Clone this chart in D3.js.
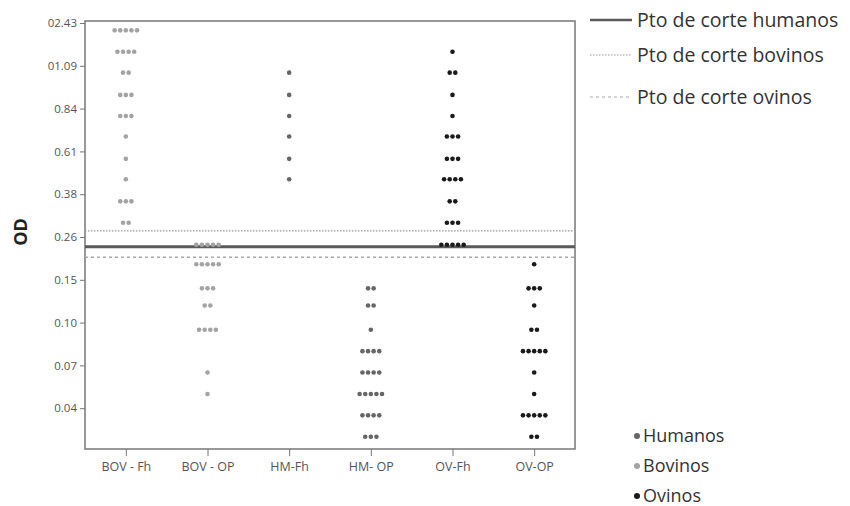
<!DOCTYPE html>
<meta charset="utf-8">
<style>
body { margin: 0; background: #fff; }
.axis text { font-family: "Open Sans", sans-serif; font-size: 11.5px; fill: #555; }
.axis.x text { font-size: 12.5px; }
.axis path, .axis line { stroke: #777; }
.legend text { font-family: "Open Sans", sans-serif; fill: #333; }
</style>
<body>
<script src="https://cdn.jsdelivr.net/npm/d3@7"></script>
<script>

// categories on the x axis
var groups = ["BOV - Fh", "BOV - OP", "HM-Fh", "HM- OP", "OV-Fh", "OV-OP"];
var groupSpecies = ["Bovinos", "Bovinos", "Humanos", "Humanos", "Ovinos", "Ovinos"];

// y ticks (OD) and the labels printed for them
var yTicks = [0.01, 0.04, 0.07, 0.10, 0.15, 0.26, 0.38, 0.61, 0.84, 1.09, 2.43];
var yTickLabels = ["", "0.04", "0.07", "0.10", "0.15", "0.26", "0.38", "0.61", "0.84", "01.09", "02.43"];

// dot plot bins: [OD, number of samples]
var bovFh = [[2.20, 5], [1.53, 4], [1.05, 2], [0.92, 3], [0.80, 3], [0.69, 1], [0.57, 1], [0.46, 1], [0.36, 3], [0.30, 2]];
var bovOp = [[0.24, 5], [0.19, 5], [0.14, 3], [0.12, 2], [0.095, 4], [0.065, 1], [0.05, 1]];
var hmFh  = [[1.05, 1], [0.92, 1], [0.80, 1], [0.69, 1], [0.57, 1], [0.46, 1]];
var hmOp  = [[0.14, 2], [0.12, 2], [0.095, 1], [0.08, 4], [0.065, 4], [0.05, 5], [0.035, 4], [0.02, 3]];
var ovFh  = [[1.53, 1], [1.05, 2], [0.92, 1], [0.80, 1], [0.69, 3], [0.57, 3], [0.46, 4], [0.36, 2], [0.30, 3], [0.24, 5]];
var ovOp  = [[0.19, 1], [0.14, 3], [0.12, 1], [0.095, 2], [0.08, 5], [0.065, 1], [0.05, 1], [0.035, 5], [0.02, 2]];
var groupBins = [bovFh, bovOp, hmFh, hmOp, ovFh, ovOp];

// cut-off points
var cutNames = ["Pto de corte humanos", "Pto de corte bovinos", "Pto de corte ovinos"];
var cutValues = [0.235, 0.277, 0.208];

var species = ["Humanos", "Bovinos", "Ovinos"];
var speciesColor = {Humanos: "#666", Bovinos: "#a3a3a3", Ovinos: "#1a1a1a"};
var cutStyle = [
  {color: "#5a5a5a", width: 3, dash: null},
  {color: "#999", width: 1.2, dash: "1.5,1.5"},
  {color: "#aaa", width: 1.5, dash: "3,3"}
];

var plot = {left: 85, top: 21, right: 575, bottom: 449};

var svg = d3.select("body").append("svg")
    .attr("width", 850)
    .attr("height", 506);

var x = d3.scalePoint()
    .domain(groups)
    .range([plot.left, plot.right])
    .padding(0.5);

// evenly spaced ticks (piecewise linear scale)
var tickTop = 23, tickStep = 42.8;
var y = d3.scaleLinear()
    .domain(yTicks)
    .range(yTicks.map(function(d, i) { return tickTop + (yTicks.length - 1 - i) * tickStep; }));

// frame
svg.append("rect")
    .attr("x", plot.left).attr("y", plot.top)
    .attr("width", plot.right - plot.left)
    .attr("height", plot.bottom - plot.top)
    .attr("fill", "none")
    .attr("stroke", "#777")
    .attr("stroke-width", 1.5);

// y axis
svg.append("g")
    .attr("class", "axis y")
    .attr("transform", "translate(" + plot.left + ",0)")
    .call(d3.axisLeft(y)
        .tickValues(yTicks.slice(1))
        .tickSize(5)
        .tickFormat(function(d) { return yTickLabels[yTicks.indexOf(d)]; }))
    .call(function(g) { g.select(".domain").remove(); });

// x axis
svg.append("g")
    .attr("class", "axis x")
    .attr("transform", "translate(0," + plot.bottom + ")")
    .call(d3.axisBottom(x).tickSize(7).tickPadding(6))
    .call(function(g) { g.select(".domain").remove(); });

svg.append("text")
    .attr("transform", "translate(27,232) rotate(-90)")
    .attr("text-anchor", "middle")
    .style("font-family", "'Open Sans', sans-serif")
    .style("font-size", "18px")
    .style("font-weight", "bold")
    .style("fill", "#222")
    .text("OD");

// cut-off lines
cutValues.forEach(function(v, i) {
  svg.append("line")
      .attr("x1", plot.left).attr("x2", plot.right)
      .attr("y1", y(v)).attr("y2", y(v))
      .attr("stroke", cutStyle[i].color)
      .attr("stroke-width", cutStyle[i].width)
      .attr("stroke-dasharray", cutStyle[i].dash);
});

// dots
var dotGap = 5.6;
groups.forEach(function(g, gi) {
  var col = svg.append("g");
  groupBins[gi].forEach(function(b) {
    var n = b[1];
    col.selectAll(null)
        .data(d3.range(n))
      .enter().append("circle")
        .attr("cx", function(k) { return x(g) + (k - (n - 1) / 2) * dotGap; })
        .attr("cy", y(b[0]))
        .attr("r", 2.3)
        .attr("fill", speciesColor[groupSpecies[gi]]);
  });
});

// legend for cut-off lines
var legend = svg.append("g").attr("class", "legend");
var cutLegendY = [20, 55, 97];
cutNames.forEach(function(name, i) {
  legend.append("line")
      .attr("x1", 590).attr("x2", 632)
      .attr("y1", cutLegendY[i]).attr("y2", cutLegendY[i])
      .attr("stroke", cutStyle[i].color)
      .attr("stroke-width", i === 0 ? 2.5 : 1.2)
      .attr("stroke-dasharray", cutStyle[i].dash);
  legend.append("text")
      .attr("x", 637).attr("y", cutLegendY[i])
      .attr("dy", "0.35em")
      .style("font-size", "19.5px")
      .text(name);
});

// legend for species
var spLegendY = [436, 466, 496];
species.forEach(function(s, i) {
  legend.append("circle")
      .attr("cx", 637).attr("cy", spLegendY[i])
      .attr("r", 3)
      .attr("fill", speciesColor[s]);
  legend.append("text")
      .attr("x", 643).attr("y", spLegendY[i])
      .attr("dy", "0.35em")
      .style("font-size", "18px")
      .text(s);
});

</script>
</body>
